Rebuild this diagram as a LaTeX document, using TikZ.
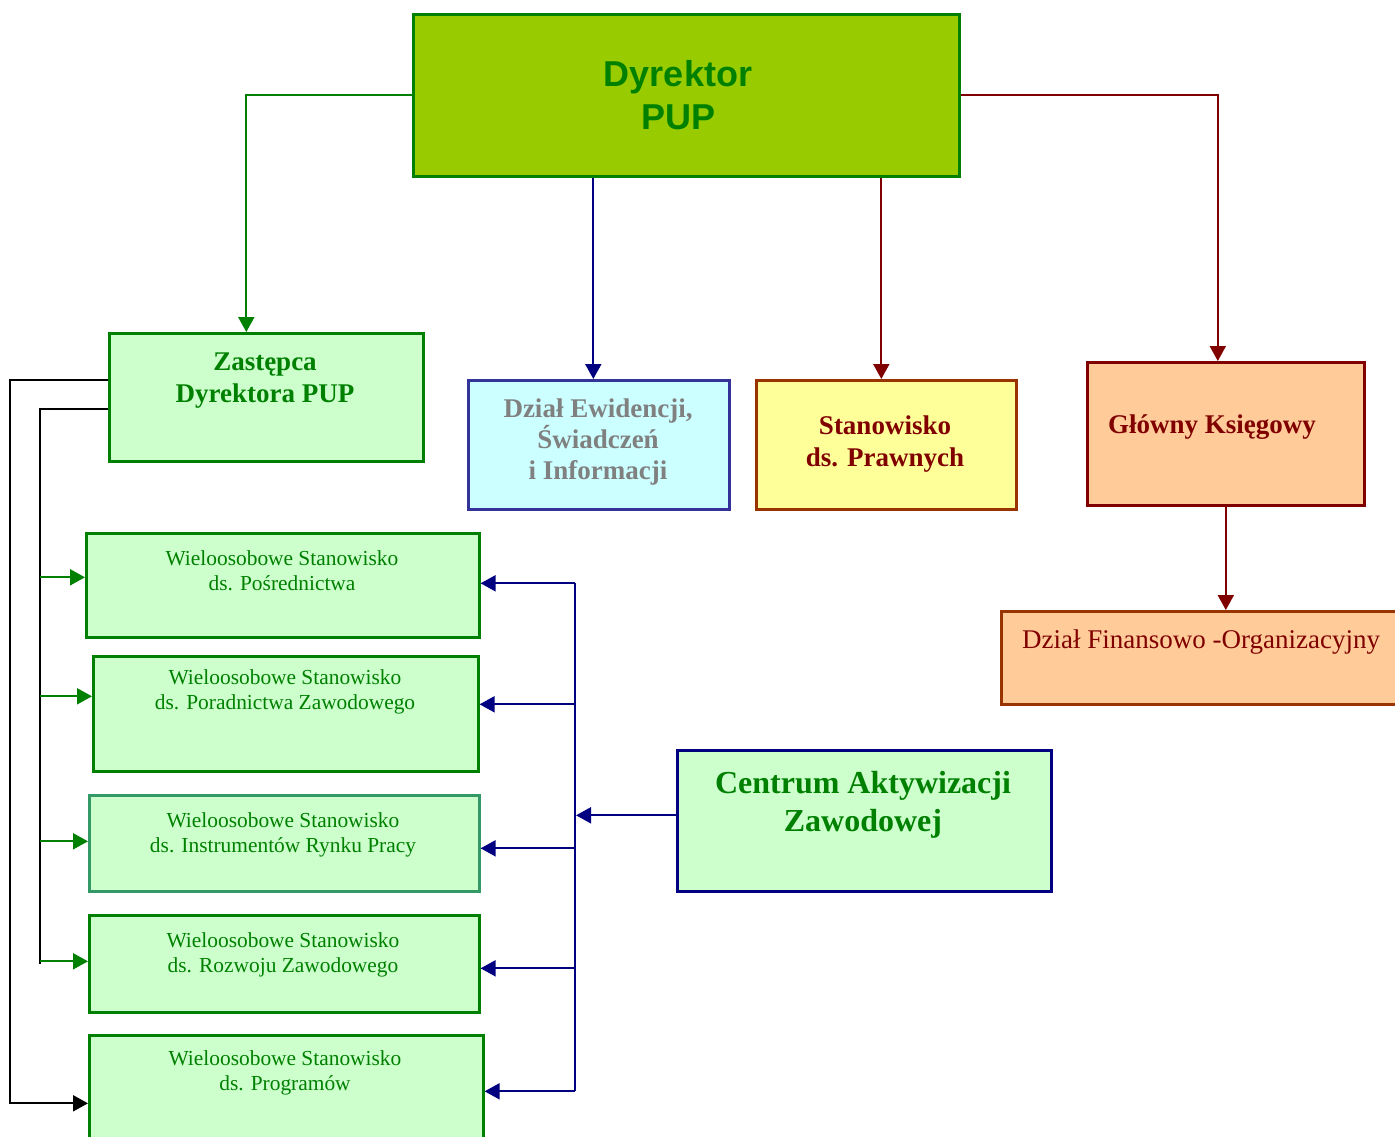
\documentclass[tikz,border=0pt]{standalone}
\usepackage{fontspec}
\setmainfont{Liberation Serif}
\newfontfamily\arialfont{Liberation Sans}
\usetikzlibrary{arrows.meta}

\definecolor{dgreen}{HTML}{008000}
\definecolor{lime}{HTML}{99CC00}
\definecolor{pale}{HTML}{CCFFCC}
\definecolor{navy}{HTML}{000080}
\definecolor{dred}{HTML}{800000}
\definecolor{brick}{HTML}{993300}
\definecolor{indigo}{HTML}{333399}
\definecolor{paleblue}{HTML}{CCFFFF}
\definecolor{paleyellow}{HTML}{FFFF99}
\definecolor{peach}{HTML}{FFCC99}
\definecolor{seagreen}{HTML}{339966}
\definecolor{greytext}{HTML}{808080}

\tikzstyle{box}=[draw, line width=1.3pt, inner sep=0pt, anchor=north west]
\tikzstyle{unit}=[box, fill=pale, draw=dgreen]
\tikzstyle{lbl}=[align=center, inner sep=0pt, anchor=base]
\tikzstyle{head}=[lbl, font=\bfseries\fontsize{13.5}{16}\selectfont]
\tikzstyle{small}=[lbl, text=dgreen, font=\fontsize{10.7}{12.5}\selectfont]
\tikzstyle{link}=[line width=1pt, -{Triangle[length=7.5pt,width=8pt]}]
\tikzstyle{plain}=[line width=1pt]

\begin{document}
\begin{tikzpicture}[x=0.5pt, y=-0.5pt]
\useasboundingbox (0,0) rectangle (1395,1136);
\clip (0,0) rectangle (1395,1136);

% boxes
\node[box, fill=lime, draw=dgreen, minimum width=273pt, minimum height=81pt] (dyr) at (412,13) {};
\node[unit, minimum width=157pt, minimum height=64pt] (zast) at (108,332) {};
\node[box, fill=paleblue, draw=indigo, minimum width=130.5pt, minimum height=64.5pt] (ewid) at (467,379) {};
\node[box, fill=paleyellow, draw=brick, minimum width=130pt, minimum height=64.5pt] (praw) at (755,379) {};
\node[box, fill=peach, draw=dred, minimum width=138.5pt, minimum height=71.5pt] (ksieg) at (1086,361) {};
\node[box, fill=peach, draw=brick, minimum width=210pt, minimum height=46.5pt] (fin) at (1000,610) {};
\node[unit, minimum width=196.5pt, minimum height=52pt] (posr) at (85,532) {};
\node[unit, minimum width=192.5pt, minimum height=57.5pt] (pora) at (92,655) {};
\node[unit, draw=seagreen, minimum width=195pt, minimum height=48pt] (instr) at (88,794) {};
\node[unit, minimum width=195pt, minimum height=48.5pt] (rozw) at (88,914) {};
\node[unit, minimum width=197pt, minimum height=60pt] (progr) at (88,1034) {};
\node[box, fill=pale, draw=navy, minimum width=187pt, minimum height=70.5pt] (cav) at (676,749) {};

% texts (base = last line)
\node[lbl, text=dgreen, font=\arialfont\bfseries\fontsize{18}{21.5}\selectfont] (dyrT) at (678,129) {Dyrektor\\PUP};
\node[head, text=dgreen] (zastT) at (265,402) {Zastępca\\Dyrektora PUP};
\node[head, text=greytext, font=\bfseries\fontsize{13.5}{15.3}\selectfont] (ewidT) at (598,479) {Dział Ewidencji,\\Świadczeń\\i Informacji};
\node[head, text=dred] (prawT) at (885,466) {Stanowisko\\ds. Prawnych};
\node[head, text=dred] (ksiegT) at (1212,433) {Główny Księgowy};
\node[lbl, text=dred, font=\fontsize{13.5}{16}\selectfont] (finT) at (1201,648) {Dział Finansowo -Organizacyjny};
\node[small] (posrT) at (282,590) {Wieloosobowe Stanowisko\\ds. Pośrednictwa};
\node[small] (poraT) at (285,709) {Wieloosobowe Stanowisko\\ds. Poradnictwa Zawodowego};
\node[small] (instrT) at (283,852) {Wieloosobowe Stanowisko\\ds. Instrumentów Rynku Pracy};
\node[small] (rozwT) at (283,972) {Wieloosobowe Stanowisko\\ds. Rozwoju Zawodowego};
\node[small] (progrT) at (285,1090) {Wieloosobowe Stanowisko\\ds. Programów};
\node[lbl, text=dgreen, font=\bfseries\fontsize{16}{19}\selectfont] (cavT) at (863,831) {Centrum Aktywizacji\\Zawodowej};

% rails
\coordinate (railA) at (10,0);
\coordinate (railB) at (40,0);
\coordinate (progrIn) at ([yshift=-4pt]progr.west);

% director links
\draw[link, dgreen] (dyr.west) -| ([xshift=-10pt]zast.north);
\draw[link, navy] ([xshift=-2.75pt]ewid.north |- dyr.south) -- ([xshift=-2.75pt]ewid.north);
\draw[link, dred] ([xshift=-2.5pt]praw.north |- dyr.south) -- ([xshift=-2.5pt]praw.north);
\draw[link, dred] (dyr.east) -| ([xshift=-4pt]ksieg.north);
\draw[link, dred] (ksieg.south) -- (ksieg.south |- fin.north);

% deputy links
\draw[link] ([yshift=8.5pt]zast.west) -| (railA |- progrIn) -- (progrIn);
\draw[plain] ([yshift=-6pt]zast.west) -| (railB |- rozw.west);
\draw[link, dgreen] ([shift={(-22.5pt,4pt)}]posr.west) -- ([yshift=4pt]posr.west);
\draw[link, dgreen] ([shift={(-26pt,8.75pt)}]pora.west) -- ([yshift=8.75pt]pora.west);
\draw[link, dgreen] ([shift={(-24pt,1pt)}]instr.west) -- ([yshift=1pt]instr.west);
\draw[link, dgreen] ([shift={(-24pt,1.25pt)}]rozw.west) -- ([yshift=1.25pt]rozw.west);

% centrum links
\draw[link, navy] ([yshift=2.75pt]cav.west) -- ++(-50pt,0);
\draw[plain, navy] ([shift={(47pt,1pt)}]posr.east) -- ([shift={(45pt,2pt)}]progr.east);
\draw[link, navy] ([shift={(47pt,1pt)}]posr.east) -- ([yshift=1pt]posr.east);
\draw[link, navy] ([shift={(47.5pt,4.75pt)}]pora.east) -- ([yshift=4.75pt]pora.east);
\draw[link, navy] ([shift={(47pt,-2.5pt)}]instr.east) -- ([yshift=-2.5pt]instr.east);
\draw[link, navy] ([shift={(47pt,-2.25pt)}]rozw.east) -- ([yshift=-2.25pt]rozw.east);
\draw[link, navy] ([shift={(45pt,2pt)}]progr.east) -- ([yshift=2pt]progr.east);
\end{tikzpicture}
\end{document}
